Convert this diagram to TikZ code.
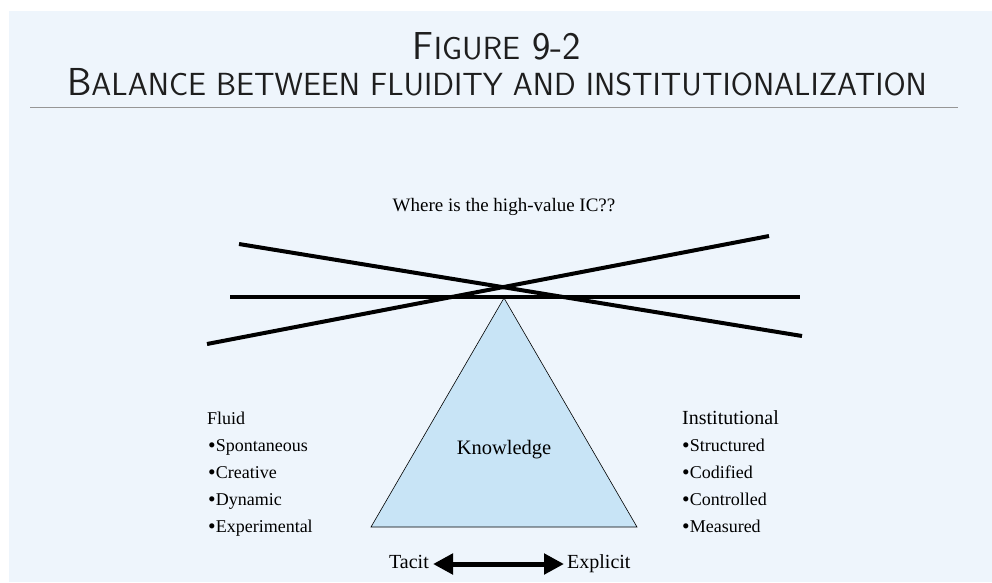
\documentclass[tikz,border=0pt]{standalone}
\usepackage{fontspec}
\setmainfont{Liberation Serif}
\usetikzlibrary{arrows.meta}
\definecolor{bgblue}{RGB}{238,245,252}
\definecolor{trifill}{RGB}{200,228,246}
\definecolor{rulegray}{RGB}{150,150,150}
\definecolor{titlecol}{RGB}{30,30,30}
\newcommand\TLarge[1]{{\fontsize{39}{39}\selectfont #1}}
\newcommand\TSmall[1]{{\fontsize{32}{32}\selectfont #1}}
\newcommand\bul{\raisebox{-1pt}{\scalebox{1.2}{\textbullet}}}
\tikzset{
  title/.style={font=\sffamily, text=titlecol, inner sep=0pt},
  lbl/.style={font=\fontsize{20}{20}\selectfont, inner sep=0pt, text height=13pt, text depth=4pt},
  blt/.style={font=\fontsize{18}{18}\selectfont, inner sep=0pt, anchor=west, text height=12pt, text depth=4pt},
  beam/.style={line width=4pt, black},
}
\begin{document}
\begin{tikzpicture}[x=1pt,y=-1pt]
\useasboundingbox (0,0) rectangle (992,582);
\fill[bgblue] (9,11) rectangle (992,582);
% title
\node[title] (t1) at (497,46) {\TLarge{F}\TSmall{IGURE}\hspace{12pt}\TLarge{9-2}};
\node[title] (t2) at (497,82) {\TLarge{B}\TSmall{ALANCE BETWEEN FLUIDITY AND INSTITUTIONALIZATION}};
\coordinate (r1) at (30,107);
\coordinate (r2) at (958,107);
\draw[rulegray, line width=1pt] (r1) -- (r2);
% question
\node[lbl, font=\fontsize{19}{19}\selectfont] (where) at (504,207) {Where is the high-value IC??};
% beams
\coordinate (a1) at (239,244);
\coordinate (a2) at (802,336);
\coordinate (b1) at (207,344);
\coordinate (b2) at (769,236);
\coordinate (h1) at (230,297);
\coordinate (h2) at (800,297);
% triangle
\coordinate (apex) at (504,298);
\coordinate (bl) at (371,527);
\coordinate (br) at (637,527);
\draw[fill=trifill, draw=black, line width=0.6pt] (apex) -- (bl) -- (br) -- cycle;
\draw[beam] (a1) -- (a2);
\draw[beam] (b1) -- (b2);
\draw[beam] (h1) -- (h2);
\node[lbl, font=\fontsize{20.5}{20.5}\selectfont] (know) at (504,450) {Knowledge};
% left list
\node[blt] (fluid) at (207,420) {Fluid};
\node[blt] (f1) at (208,447) {\bul Spontaneous};
\node[blt] (f2) at (208,474) {\bul Creative};
\node[blt] (f3) at (208,501) {\bul Dynamic};
\node[blt] (f4) at (208,528) {\bul Experimental};
% right list
\node[lbl, anchor=west] (inst) at (682,420) {Institutional};
\node[blt] (i1) at (682,447) {\bul Structured};
\node[blt] (i2) at (682,474) {\bul Codified};
\node[blt] (i3) at (682,501) {\bul Controlled};
\node[blt] (i4) at (682,528) {\bul Measured};
% bottom arrow
\node[lbl, anchor=east] (tacit) at (429,564) {Tacit};
\node[lbl, anchor=west] (expl) at (567,564) {Explicit};
\draw[line width=5pt, {Triangle[length=20pt,width=20pt]}-{Triangle[length=20pt,width=20pt]}] ([xshift=4pt]tacit.east) -- ([xshift=-3pt]expl.west);
\end{tikzpicture}
\end{document}
